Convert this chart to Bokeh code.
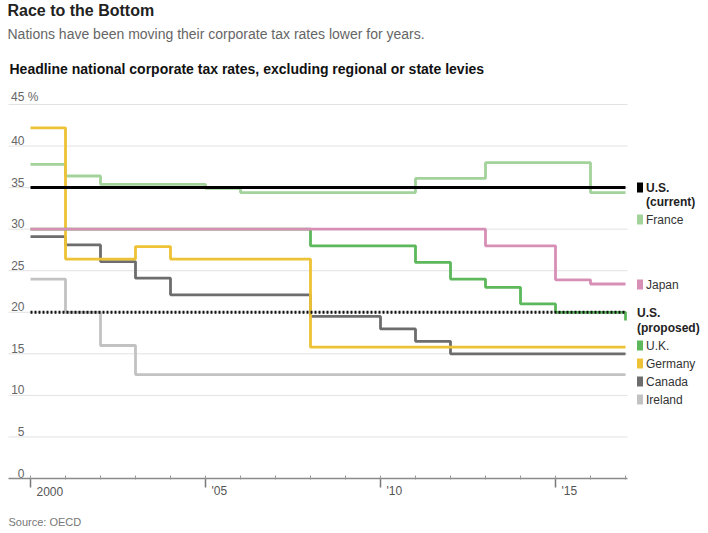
from bokeh.plotting import figure
from bokeh.models import Range1d, LinearAxis, FixedTicker
from bokeh.core.properties import value
from bokeh.embed import file_html
from bokeh.resources import INLINE

# ---------------- data ----------------
years = [2000, 2001, 2002, 2003, 2004, 2005, 2006, 2007, 2008,
         2009, 2010, 2011, 2012, 2013, 2014, 2015, 2016, 2017]
france = [37.8, 36.4, 35.4, 35.4, 35.4, 34.9, 34.4, 34.4, 34.4,
          34.4, 34.4, 36.1, 36.1, 38.0, 38.0, 38.0, 34.4, 34.4]
japan = [30.0, 30.0, 30.0, 30.0, 30.0, 30.0, 30.0, 30.0, 30.0,
         30.0, 30.0, 30.0, 30.0, 28.0, 28.0, 23.9, 23.4, 23.4]
uk = [30.0, 30.0, 30.0, 30.0, 30.0, 30.0, 30.0, 30.0, 28.0,
      28.0, 28.0, 26.0, 24.0, 23.0, 21.0, 20.0, 20.0, 19.0]
germany = [42.2, 26.4, 26.4, 27.9, 26.4, 26.4, 26.4, 26.4, 15.8,
           15.8, 15.8, 15.8, 15.8, 15.8, 15.8, 15.8, 15.8, 15.8]
canada = [29.1, 28.1, 26.1, 24.1, 22.1, 22.1, 22.1, 22.1, 19.5,
          19.5, 18.0, 16.5, 15.0, 15.0, 15.0, 15.0, 15.0, 15.0]
ireland = [24.0, 20.0, 16.0, 12.5, 12.5, 12.5, 12.5, 12.5, 12.5,
           12.5, 12.5, 12.5, 12.5, 12.5, 12.5, 12.5, 12.5, 12.5]
us_current = [35.0, 35.0, 35.0, 35.0, 35.0, 35.0, 35.0, 35.0, 35.0,
              35.0, 35.0, 35.0, 35.0, 35.0, 35.0, 35.0, 35.0, 35.0]
us_proposed = [20.0, 20.0, 20.0, 20.0, 20.0, 20.0, 20.0, 20.0, 20.0,
               20.0, 20.0, 20.0, 20.0, 20.0, 20.0, 20.0, 20.0, 20.0]

y_ticks = [0, 5, 10, 15, 20, 25, 30, 35, 40]
y_tick_labels = ["0", "5", "10", "15", "20", "25", "30", "35", "40"]
y_top_tick = 45
y_top_label = "45 %"
x_major = [2000, 2005, 2010, 2015]
x_major_labels = ["2000", "'05", "'10", "'15"]

legend_names = ["France", "Japan", "U.K.", "Germany", "Canada", "Ireland"]

# ---------------- colours / layout ----------------
C_FR = "#a3d39a"
C_JP = "#d88fb6"
C_UK = "#5cb85a"
C_DE = "#eec236"
C_CA = "#6d6d6d"
C_IE = "#c2c2c2"
FONT = "Liberation Sans"

# page-pixel -> data helpers (layout only)
def X(px):
    return 2000 + (px - 30) / 35.0

def Y(py):
    return (478 - py) / 8.311

W, H = 706, 531
p = figure(width=W, height=H, output_backend="svg", toolbar_location=None,
           x_range=Range1d(X(0), X(W)), y_range=Range1d(Y(H), Y(0)),
           min_border_left=0, min_border_right=0, min_border_top=0,
           min_border_bottom=0, x_axis_type=None, y_axis_type=None)
p.outline_line_color = None
p.xgrid.visible = False
p.ygrid.visible = False
p.background_fill_color = "white"
p.border_fill_color = "white"

# x axis, drawn at y = 0
xaxis = LinearAxis(ticker=FixedTicker(ticks=x_major, minor_ticks=years),
                   bounds=(X(8), X(627)), fixed_location=0)
xaxis.major_label_overrides = {k: "" for k in x_major}
xaxis.major_label_text_font_size = "0px"
xaxis.axis_line_color = "#8a8a8a"
xaxis.axis_line_width = 1.5
xaxis.major_tick_out = 9
xaxis.major_tick_in = 0
xaxis.major_tick_line_color = "#777777"
xaxis.major_tick_line_width = 1.5
xaxis.minor_tick_in = 3
xaxis.minor_tick_out = 1
xaxis.minor_tick_line_color = "#999999"
xaxis.minor_tick_line_width = 1
p.add_layout(xaxis, "below")

# x tick labels, just right of each major tick
p.text(x=[t + 6 / 35.0 for t in x_major], y=[Y(490.5)] * len(x_major), text=x_major_labels,
       text_font=value(FONT), text_font_size="12px", text_color="#555555",
       text_baseline="middle", text_align="left")

# gridlines
grid_y = [t for t in y_ticks if t > 0] + [y_top_tick]
p.segment(x0=[X(8)] * len(grid_y), x1=[X(627)] * len(grid_y), y0=grid_y, y1=grid_y,
          line_color="#e2e2e2", line_width=1)

# y tick labels (right-aligned numbers above the gridlines)
p.text(x=[X(24)] * len(y_ticks), y=y_ticks, text=y_tick_labels,
       text_font=value(FONT), text_font_size="12px", text_color="#666666",
       text_baseline="bottom", text_align="right", y_offset=-1)
p.text(x=[X(10.5)], y=[y_top_tick], text=[y_top_label],
       text_font=value(FONT), text_font_size="12px", text_color="#666666",
       text_baseline="bottom", text_align="left", y_offset=-1)

# series
LW = 2.8
p.step(years, france, mode="after", line_color=C_FR, line_width=LW)
p.step(years, ireland, mode="after", line_color=C_IE, line_width=LW)
p.step(years, canada, mode="after", line_color=C_CA, line_width=LW)
p.step(years, germany, mode="after", line_color=C_DE, line_width=LW)
p.step(years, uk, mode="after", line_color=C_UK, line_width=LW)
p.step(years, japan, mode="after", line_color=C_JP, line_width=LW)
p.step(years, us_current, mode="after", line_color="black", line_width=3)
p.step(years, us_proposed, mode="after", line_color="#111111", line_width=3,
       line_dash="2 2")

# legend
sq_x = X(639.5)
tx_x = X(645.5)
legend_y_px = [219, 284, 345, 363, 381, 399]
legend_colors = [C_FR, C_JP, C_UK, C_DE, C_CA, C_IE]
p.rect(x=[sq_x] * 7, y=[Y(187)] + [Y(v) for v in legend_y_px], width=6, height=10,
       width_units="screen", height_units="screen",
       fill_color=["black"] + legend_colors, line_color=None)
p.text(x=[tx_x] * 6, y=[Y(v) for v in legend_y_px], text=legend_names,
       text_font=value(FONT), text_font_size="12px", text_color="#333333",
       text_baseline="middle", text_align="left")
p.text(x=[tx_x, tx_x, X(636.5), X(636.5)], y=[Y(187), Y(201), Y(312), Y(327)],
       text=["U.S.", "(current)", "U.S.", "(proposed)"],
       text_font=value(FONT), text_font_size="12px", text_color="#222222",
       text_font_style="bold", text_baseline="middle", text_align="left")

# titles
p.text(x=[X(7)], y=[Y(9.5)], text=["Race to the Bottom"], text_font=value(FONT),
       text_font_size="16px", text_font_style="bold", text_color="#222222",
       text_baseline="middle", text_align="left")
p.text(x=[X(7)], y=[Y(33)], text=["Nations have been moving their corporate tax rates lower for years."],
       text_font=value(FONT), text_font_size="14px", text_color="#666666",
       text_baseline="middle", text_align="left")
p.text(x=[X(9)], y=[Y(68)], text=["Headline national corporate tax rates, excluding regional or state levies"],
       text_font=value(FONT), text_font_size="14px", text_font_style="bold", text_color="#111111",
       text_baseline="middle", text_align="left")

# source
p.text(x=[X(8)], y=[Y(521)], text=["Source: OECD"], text_font=value(FONT),
       text_font_size="11px", text_color="#777777", text_baseline="middle",
       text_align="left")

open("out.html", "w").write(file_html(p, INLINE))
